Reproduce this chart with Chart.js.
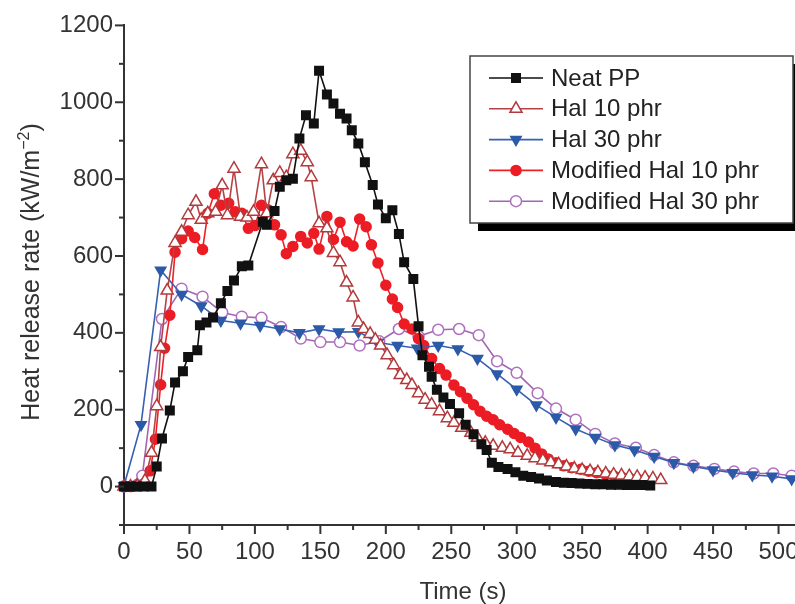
<!DOCTYPE html>
<html>
<head>
<meta charset="utf-8">
<script src="https://cdn.jsdelivr.net/npm/chart.js@4/dist/chart.umd.min.js"></script>
<style>
  html, body { margin: 0; padding: 0; background: #fff; overflow: hidden; width: 795px; height: 604px; }
  canvas { display: block; }
</style>
</head>
<body>
<canvas id="hrr" width="880" height="604"></canvas>
<script>
// Cone calorimeter heat release rate curves (time in s, HRR in kW/m^2)
const neatTime = [0, 5, 10, 15, 21, 25, 29, 35, 39, 45, 49, 56, 58, 63, 68, 74, 79, 84, 90, 95, 106, 109, 115, 119, 124, 129, 134, 139, 145, 149, 155, 160, 165, 170, 174, 179, 184, 190, 194, 200, 205, 210, 214, 221, 225, 228, 233, 235, 239, 244, 249, 256, 261, 267, 273, 277, 281, 286, 293, 299, 305, 311, 317, 323, 330, 336, 342, 348, 354, 360, 366, 372, 378, 384, 390, 396, 402];
const neatHRR  = [0, 0, 0, 0, 0, 52, 125, 198, 271, 300, 337, 355, 420, 427, 440, 477, 509, 536, 573, 575, 689, 681, 717, 780, 797, 801, 906, 966, 945, 1082, 1020, 997, 970, 958, 927, 893, 844, 785, 734, 698, 719, 657, 584, 540, 417, 342, 312, 286, 252, 232, 215, 191, 161, 136, 110, 95, 62, 51, 46, 37, 28, 25, 21, 16, 12, 10, 9, 8, 7, 6, 6, 5, 5, 4, 4, 4, 3];

const hal10Time = [0, 5, 10, 16, 21, 25, 28, 33, 39, 44, 49, 55, 59, 64, 70, 75, 79, 84, 89, 94, 99, 105, 109, 114, 119, 124, 129, 135, 140, 143, 149, 155, 160, 165, 170, 175, 179, 183, 188, 192, 196, 201, 206, 211, 216, 220, 225, 230, 235, 241, 247, 252, 258, 265, 270, 276, 282, 289, 295, 301, 308, 314, 320, 326, 332, 338, 344, 350, 356, 362, 368, 374, 380, 386, 392, 398, 404, 410];
const hal10HRR  = [0, 0, 2, 15, 88, 209, 363, 510, 634, 663, 706, 741, 694, 711, 715, 784, 706, 827, 702, 700, 715, 839, 711, 797, 816, 805, 865, 874, 844, 805, 685, 672, 608, 584, 531, 492, 427, 410, 397, 382, 367, 342, 316, 290, 277, 264, 243, 226, 213, 196, 178, 166, 153, 140, 127, 114, 106, 101, 97, 88, 80, 74, 68, 63, 58, 52, 47, 43, 40, 37, 34, 31, 29, 27, 25, 23, 21, 17];

const hal30Time = [0, 13, 28, 44, 59, 74, 89, 104, 119, 134, 149, 164, 179, 194, 209, 224, 240, 255, 270, 285, 300, 315, 330, 345, 360, 375, 390, 405, 420, 435, 450, 465, 480, 495, 510];
const hal30HRR  = [2, 161, 563, 500, 470, 432, 425, 419, 410, 400, 410, 402, 403, 375, 367, 360, 367, 358, 333, 293, 253, 212, 180, 150, 128, 108, 95, 78, 62, 52, 43, 36, 30, 27, 20];

const modHal10Time = [0, 5, 10, 15, 20, 24, 28, 31, 35, 39, 44, 49, 54, 60, 64, 69, 74, 80, 85, 90, 95, 100, 105, 110, 115, 120, 124, 129, 135, 140, 145, 149, 155, 160, 165, 170, 175, 180, 185, 189, 194, 200, 205, 209, 214, 220, 225, 229, 235, 241, 246, 252, 257, 262, 267, 272, 277, 282, 287, 293, 298, 303, 309, 314, 319, 324, 330, 336, 342, 349, 355, 361, 368, 374, 380, 386, 392, 398];
const modHal10HRR  = [0, 0, 2, 7, 41, 123, 265, 360, 446, 610, 645, 665, 648, 617, 711, 762, 732, 737, 715, 711, 672, 679, 732, 720, 681, 655, 606, 625, 651, 634, 659, 618, 703, 643, 688, 637, 626, 696, 676, 629, 582, 524, 488, 466, 423, 410, 385, 367, 333, 307, 290, 264, 247, 230, 213, 196, 183, 174, 161, 149, 138, 128, 116, 100, 85, 72, 62, 54, 49, 45, 40, 36, 31, 28, 25, 22, 20, 18];

const modHal30Time = [0, 14, 29, 44, 60, 75, 90, 105, 120, 135, 150, 165, 180, 195, 210, 225, 240, 256, 271, 285, 300, 316, 330, 345, 360, 375, 391, 405, 420, 435, 451, 466, 481, 496, 510];
const modHal30HRR  = [0, 28, 436, 515, 494, 453, 442, 439, 415, 385, 376, 376, 367, 378, 410, 391, 408, 410, 394, 326, 296, 243, 203, 174, 137, 112, 101, 82, 63, 54, 46, 39, 34, 34, 28];

const seriesNames = ['Neat PP', 'Hal 10 phr', 'Hal 30 phr', 'Modified Hal 10 phr', 'Modified Hal 30 phr'];

// x-axis ticks every 25 s (labelled every 50 s), y-axis ticks every 100 (labelled every 200)
const xTickStep = 25, xLabelStep = 50;
const yTickStep = 100, yLabelStep = 200;

const FONT = '"Liberation Sans", Arial, sans-serif';
const AXIS_COLOR = '#333';
const TEXT_SIZE = 24;

function pairs(t, v) { return t.map((x, i) => ({ x: x, y: v[i] })); }

const styles = [
  { line: '#111111', fill: '#111111', border: '#111111', style: 'rect', radius: 6, rotation: 0 },
  { line: '#b54244', fill: '#ffffff', border: '#b23a3c', style: 'triangle', radius: 7, rotation: 0 },
  { line: '#3760b0', fill: '#2b5aa8', border: '#2b5aa8', style: 'triangle', radius: 6, rotation: 180 },
  { line: '#ee2026', fill: '#ec1c24', border: '#ec1c24', style: 'circle', radius: 5, rotation: 0 },
  { line: '#a066b4', fill: '#ffffff', border: '#b070c0', style: 'circle', radius: 5.5, rotation: 0 }
];

const rawSeries = [
  pairs(neatTime, neatHRR),
  pairs(hal10Time, hal10HRR),
  pairs(hal30Time, hal30HRR),
  pairs(modHal10Time, modHal10HRR),
  pairs(modHal30Time, modHal30HRR)
];

const datasets = rawSeries.map((d, i) => ({
  label: seriesNames[i],
  data: d,
  borderColor: styles[i].line,
  borderWidth: 1.6,
  pointStyle: styles[i].style,
  pointRadius: styles[i].radius,
  pointRotation: styles[i].rotation,
  pointBackgroundColor: styles[i].fill,
  pointBorderColor: styles[i].border,
  pointBorderWidth: 1.5,
  tension: 0,
  fill: false,
  clip: false
}));

// Tick marks drawn outward: longer for labelled ticks
const tickMarks = {
  id: 'tickMarks',
  afterDraw(chart) {
    const ctx = chart.ctx;
    const xs = chart.scales.x, ys = chart.scales.y;
    const area = chart.chartArea;
    ctx.save();
    ctx.strokeStyle = AXIS_COLOR;
    ctx.lineWidth = 2;
    ys.ticks.forEach(t => {
      const y = ys.getPixelForValue(t.value);
      const len = (t.value % yLabelStep === 0) ? 9 : 5;
      ctx.beginPath();
      ctx.moveTo(area.left - len, y);
      ctx.lineTo(area.left, y);
      ctx.stroke();
    });
    xs.ticks.forEach(t => {
      const x = xs.getPixelForValue(t.value);
      const len = (t.value % xLabelStep === 0) ? 9 : 5;
      ctx.beginPath();
      ctx.moveTo(x, area.bottom);
      ctx.lineTo(x, area.bottom + len);
      ctx.stroke();
    });
    ctx.restore();
  }
};

// Axis titles (with superscript unit)
const axisTitles = {
  id: 'axisTitles',
  afterDraw(chart) {
    const ctx = chart.ctx;
    ctx.save();
    ctx.fillStyle = AXIS_COLOR;
    ctx.textBaseline = 'alphabetic';
    ctx.font = TEXT_SIZE + 'px ' + FONT;
    ctx.textAlign = 'center';
    ctx.fillText('Time (s)', 463, 599);
    const main = 'Heat release rate (kW/m';
    const sup = '\u22122';
    const tail = ')';
    ctx.font = '25px ' + FONT;
    const wMain = ctx.measureText(main).width;
    const wTail = ctx.measureText(tail).width;
    ctx.font = '16px ' + FONT;
    const wSup = ctx.measureText(sup).width;
    const total = wMain + wSup + wTail;
    ctx.translate(39, 272);
    ctx.rotate(-Math.PI / 2);
    ctx.textAlign = 'left';
    let x = -total / 2;
    ctx.font = '25px ' + FONT;
    ctx.fillText(main, x, 0);
    x += wMain;
    ctx.font = '16px ' + FONT;
    ctx.fillText(sup, x, -10);
    x += wSup;
    ctx.font = '25px ' + FONT;
    ctx.fillText(tail, x, 0);
    ctx.restore();
  }
};

// Boxed legend with drop shadow inside the plot
const boxLegend = {
  id: 'boxLegend',
  afterDraw(chart) {
    const ctx = chart.ctx;
    const bx = 470, by = 56, bw = 323, bh = 167;
    ctx.save();
    ctx.fillStyle = '#000';
    ctx.fillRect(bx + 8, by + 8, bw, bh);
    ctx.fillStyle = '#fff';
    ctx.fillRect(bx, by, bw, bh);
    ctx.strokeStyle = '#444';
    ctx.lineWidth = 1.5;
    ctx.strokeRect(bx, by, bw, bh);
    chart.data.datasets.forEach((ds, i) => {
      const y = 78 + i * 30.8;
      ctx.strokeStyle = ds.borderColor;
      ctx.lineWidth = 1.6;
      ctx.beginPath();
      ctx.moveTo(489, y);
      ctx.lineTo(543, y);
      ctx.stroke();
      ctx.fillStyle = ds.pointBackgroundColor;
      ctx.strokeStyle = ds.pointBorderColor;
      ctx.lineWidth = 1.5;
      Chart.helpers.drawPoint(ctx, {
        pointStyle: ds.pointStyle,
        radius: ds.pointRadius,
        rotation: ds.pointRotation,
        borderWidth: 1.5
      }, 516, y);
      ctx.fillStyle = '#222';
      ctx.font = TEXT_SIZE + 'px ' + FONT;
      ctx.textAlign = 'left';
      ctx.textBaseline = 'middle';
      ctx.fillText(ds.label, 551, y + 1);
    });
    ctx.restore();
  }
};

new Chart(document.getElementById('hrr'), {
  type: 'line',
  data: { datasets: datasets },
  plugins: [tickMarks, axisTitles, boxLegend],
  options: {
    responsive: false,
    animation: false,
    devicePixelRatio: 1,
    layout: { padding: { top: 20, right: 36, left: 0, bottom: 0 } },
    plugins: { legend: { display: false }, tooltip: { enabled: false } },
    scales: {
      x: {
        type: 'linear',
        min: 0,
        max: 550,
        grid: { display: false, drawTicks: false },
        border: { display: true, color: AXIS_COLOR, width: 2 },
        afterFit(s) { s.height = 79; },
        ticks: {
          stepSize: xTickStep,
          includeBounds: false,
          autoSkip: false,
          maxRotation: 0,
          padding: 13,
          color: AXIS_COLOR,
          font: { family: FONT, size: TEXT_SIZE },
          callback: v => (v % xLabelStep === 0 ? String(v) : '')
        }
      },
      y: {
        type: 'linear',
        min: -100,
        max: 1200,
        grid: { display: false, drawTicks: false },
        border: { display: true, color: AXIS_COLOR, width: 2 },
        afterFit(s) { s.width = 124; },
        ticks: {
          stepSize: yTickStep,
          includeBounds: false,
          autoSkip: false,
          padding: 11,
          color: AXIS_COLOR,
          font: { family: FONT, size: TEXT_SIZE },
          callback: v => (v % yLabelStep === 0 && v >= 0 ? String(v) : '')
        }
      }
    }
  }
});
</script>
</body>
</html>
